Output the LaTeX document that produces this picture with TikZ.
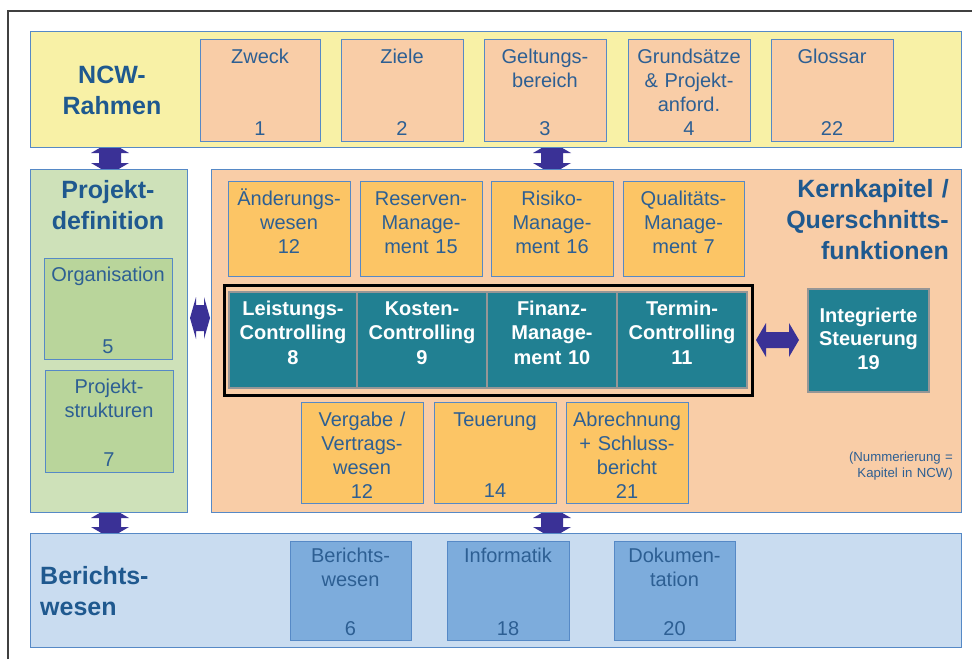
\documentclass[tikz,border=0pt]{standalone}
\usepackage{fontspec}
\setmainfont{Liberation Sans}
\definecolor{ncwy}{RGB}{248,241,166}
\definecolor{bline}{RGB}{86,137,198}
\definecolor{peach}{RGB}{249,205,167}
\definecolor{gband}{RGB}{206,225,185}
\definecolor{gbox}{RGB}{185,213,155}
\definecolor{orng}{RGB}{252,197,101}
\definecolor{teal2}{RGB}{33,128,146}
\definecolor{bband}{RGB}{201,220,240}
\definecolor{bbox}{RGB}{125,172,220}
\definecolor{arrc}{RGB}{58,49,150}
\definecolor{titc}{RGB}{31,89,143}
\definecolor{txc}{RGB}{45,95,147}
\newcommand\vdarr[6]{\fill[arrc] (#1,#2) -- (#1+#4,#2+#6) -- (#1+#5,#2+#6) -- (#1+#5,#3-#6) -- (#1+#4,#3-#6) -- (#1,#3) -- (#1-#4,#3-#6) -- (#1-#5,#3-#6) -- (#1-#5,#2+#6) -- (#1-#4,#2+#6) -- cycle;}
\newcommand\hdarr[6]{\fill[arrc] (#2,#1) -- (#2+#6,#1-#4) -- (#2+#6,#1-#5) -- (#3-#6,#1-#5) -- (#3-#6,#1-#4) -- (#3,#1) -- (#3-#6,#1+#4) -- (#3-#6,#1+#5) -- (#2+#6,#1+#5) -- (#2+#6,#1+#4) -- cycle;}
\begin{document}
\begin{tikzpicture}[x=1pt,y=-1pt,
  rect/.style={anchor=north west, inner sep=0pt, outer sep=0pt, draw=bline, line width=1pt},
  ttl/.style={inner sep=0pt, text=titc, font=\bfseries\fontsize{25}{31}\selectfont, text width=220pt},
  bx/.style={anchor=base, inner sep=0pt, text=txc, font=\fontsize{20}{24}\selectfont, text width=150pt, align=center},
  tl/.style={anchor=base, inner sep=0pt, text=white, font=\bfseries\fontsize{20}{24.5}\selectfont, text width=150pt, align=center},
  tealbox/.style={rect, fill=teal2, draw={rgb,255:red,150;green,150;blue,150}, line width=1.2pt}]
\useasboundingbox (0,0) rectangle (972,659);
\fill[white] (0,0) rectangle (972,659);
% outer frame
\draw[line width=1.5pt, black!75] (8,659) -- (8,11) -- (972,11);
% vertical arrows (tips hidden under bands)
\vdarr{110}{142}{174}{19}{11}{11}
\vdarr{552}{142}{174}{19}{11}{11}
\vdarr{110}{507}{538}{19}{11}{11}
\vdarr{552}{507}{538}{19}{11}{11}
% ---- NCW band
\node[rect, fill=ncwy, minimum width=931pt, minimum height=116pt] (ncw) at (30,31) {};
\node[ttl, anchor=base, align=center] (ncwt) at (112,83) {NCW-\\Rahmen};
\node[rect, fill=peach, minimum width=120pt, minimum height=102pt] (zweck) at (200,39) {};
\node[rect, fill=peach, minimum width=122pt, minimum height=102pt] (ziele) at (341,39) {};
\node[rect, fill=peach, minimum width=122pt, minimum height=102pt] (gelt) at (484,39) {};
\node[rect, fill=peach, minimum width=122pt, minimum height=102pt] (grund) at (628,39) {};
\node[rect, fill=peach, minimum width=122pt, minimum height=102pt] (gloss) at (771,39) {};
\node[bx] (zweckt) at (260,63) {Zweck};
\node[bx] (zweckn) at (260,135) {1};
\node[bx] (zielet) at (402,63) {Ziele};
\node[bx] (zielen) at (402,135) {2};
\node[bx] (geltt) at (545,63) {Geltungs-\\bereich};
\node[bx] (geltn) at (545,135) {3};
\node[bx] (grundt) at (689,63) {Grundsätze\\\& Projekt-\\anford.};
\node[bx] (grundn) at (689,135) {4};
\node[bx] (glosst) at (832,63) {Glossar};
\node[bx] (glossn) at (832,135) {22};
% ---- Projektdefinition
\node[rect, fill=gband, minimum width=157pt, minimum height=343pt] (pdef) at (30,169) {};
\node[ttl, anchor=base, align=center] (pdeft) at (108,198) {Projekt-\\definition};
\node[rect, fill=gbox, minimum width=128pt, minimum height=101pt] (org) at (44,258) {};
\node[rect, fill=gbox, minimum width=128pt, minimum height=102pt] (pstr) at (45,370) {};
\node[bx] (orgt) at (108,281) {Organisation};
\node[bx] (orgn) at (108,353) {5};
\node[bx] (pstrt) at (109,393) {Projekt-\\strukturen};
\node[bx] (pstrn) at (109,466) {7};
% ---- Kernkapitel
\node[rect, fill=peach, minimum width=750pt, minimum height=343pt] (kern) at (211,169) {};
\node[ttl, anchor=base east, align=right] (kernt) at (949,197) {Kernkapitel /\\Querschnitts-\\funktionen};
\node[rect, fill=orng, minimum width=122pt, minimum height=95pt] (aend) at (228,181) {};
\node[rect, fill=orng, minimum width=122pt, minimum height=95pt] (resv) at (360,181) {};
\node[rect, fill=orng, minimum width=122pt, minimum height=95pt] (risk) at (491,181) {};
\node[rect, fill=orng, minimum width=121pt, minimum height=95pt] (qual) at (623,181) {};
\node[bx] (aendt) at (289,205) {Änderungs-\\wesen\\12};
\node[bx] (resvt) at (421,205) {Reserven-\\Manage-\\ment 15};
\node[bx] (riskt) at (552,205) {Risiko-\\Manage-\\ment 16};
\node[bx] (qualt) at (683.5,205) {Qualitäts-\\Manage-\\ment 7};
\node[anchor=north west, inner sep=0pt, draw=black, line width=3pt, minimum width=528pt, minimum height=110pt] (ctrl) at (223,284) {};
\node[tealbox, minimum width=128pt, minimum height=96pt] (leis) at (229,292) {};
\node[tealbox, minimum width=130pt, minimum height=96pt] (kost) at (357,292) {};
\node[tealbox, minimum width=130pt, minimum height=96pt] (fin) at (487,292) {};
\node[tealbox, minimum width=130pt, minimum height=96pt] (term) at (617,292) {};
\node[tl] (leist) at (293,315) {Leistungs-\\Controlling\\8};
\node[tl] (kostt) at (422,315) {Kosten-\\Controlling\\9};
\node[tl] (fint) at (552,315) {Finanz-\\Manage-\\ment 10};
\node[tl] (termt) at (682,315) {Termin-\\Controlling\\11};
\node[tealbox, minimum width=121pt, minimum height=103pt] (integ) at (808,289) {};
\node[tl, font=\bfseries\fontsize{20}{23.5}\selectfont] (integt) at (868.5,322) {Integrierte\\Steuerung\\19};
\node[rect, fill=orng, minimum width=122pt, minimum height=101pt] (verg) at (301,402) {};
\node[rect, fill=orng, minimum width=122pt, minimum height=101pt] (teu) at (434,402) {};
\node[rect, fill=orng, minimum width=122pt, minimum height=101pt] (abr) at (566,402) {};
\node[bx] (vergt) at (362,426) {Vergabe /\\Vertrags-\\wesen\\12};
\node[bx] (teut) at (495,426) {Teuerung};
\node[bx] (teun) at (495,497) {14};
\node[bx] (abrt) at (627,426) {Abrechnung\\+ Schluss-\\bericht\\21};
\node[anchor=base east, inner sep=0pt, text=txc, font=\fontsize{13.2}{16.5}\selectfont, text width=150pt, align=right] (note) at (953,461) {(Nummerierung =\\Kapitel in NCW)};
% horizontal arrows
\hdarr{318}{190}{210}{21}{13}{6}
\hdarr{340}{756}{799}{17}{8}{10}
% ---- Berichtswesen
\node[rect, fill=bband, minimum width=931pt, minimum height=114pt] (bw) at (30,533) {};
\node[ttl, anchor=base west, align=left] (bwt) at (40,584) {Berichts-\\wesen};
\node[rect, fill=bbox, minimum width=121pt, minimum height=99pt] (ber) at (290,541) {};
\node[rect, fill=bbox, minimum width=122pt, minimum height=99pt] (inf) at (447,541) {};
\node[rect, fill=bbox, minimum width=121pt, minimum height=99pt] (dok) at (614,541) {};
\node[bx] (bert) at (350.5,562) {Berichts-\\wesen};
\node[bx] (bern) at (350.5,635) {6};
\node[bx] (inft) at (508,562) {Informatik};
\node[bx] (infn) at (508,635) {18};
\node[bx] (dokt) at (674.5,562) {Dokumen-\\tation};
\node[bx] (dokn) at (674.5,635) {20};
\end{tikzpicture}
\end{document}
